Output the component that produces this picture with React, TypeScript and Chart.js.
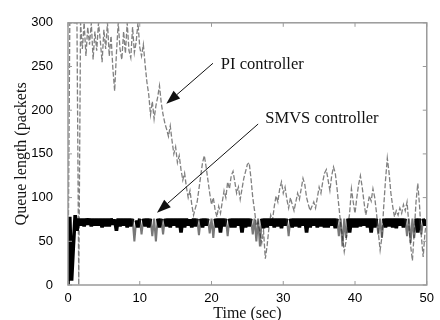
import { useEffect, useRef } from "react";
import { Chart, registerables } from "chart.js";
Chart.register(...registerables);

const TIME = [
  0, 0.25, 0.5, 0.75, 1, 1.25, 1.5,
  1.75, 2, 2.25, 2.5, 2.75, 3, 3.25, 3.5,
  3.75, 4, 4.25, 4.5, 4.75, 5, 5.25, 5.5,
  5.75, 6, 6.25, 6.5, 6.75, 7, 7.25, 7.5,
  7.75, 8, 8.25, 8.5, 8.75, 9, 9.25, 9.5,
  9.75, 10, 10.25, 10.5, 10.75, 11, 11.25, 11.5,
  11.75, 12, 12.25, 12.5, 12.75, 13, 13.25, 13.5,
  13.75, 14, 14.25, 14.5, 14.75, 15, 15.25, 15.5,
  15.75, 16, 16.25, 16.5, 16.75, 17, 17.25, 17.5,
  17.75, 18, 18.25, 18.5, 18.75, 19, 19.25, 19.5,
  19.75, 20, 20.25, 20.5, 20.75, 21, 21.25, 21.5,
  21.75, 22, 22.25, 22.5, 22.75, 23, 23.25, 23.5,
  23.75, 24, 24.25, 24.5, 24.75, 25, 25.25, 25.5,
  25.75, 26, 26.25, 26.5, 26.75, 27, 27.25, 27.5,
  27.75, 28, 28.25, 28.5, 28.75, 29, 29.25, 29.5,
  29.75, 30, 30.25, 30.5, 30.75, 31, 31.25, 31.5,
  31.75, 32, 32.25, 32.5, 32.75, 33, 33.25, 33.5,
  33.75, 34, 34.25, 34.5, 34.75, 35, 35.25, 35.5,
  35.75, 36, 36.25, 36.5, 36.75, 37, 37.25, 37.5,
  37.75, 38, 38.25, 38.5, 38.75, 39, 39.25, 39.5,
  39.75, 40, 40.25, 40.5, 40.75, 41, 41.25, 41.5,
  41.75, 42, 42.25, 42.5, 42.75, 43, 43.25, 43.5,
  43.75, 44, 44.25, 44.5, 44.75, 45, 45.25, 45.5,
  45.75, 46, 46.25, 46.5, 46.75, 47, 47.25, 47.5,
  47.75, 48, 48.25, 48.5, 48.75, 49, 49.25, 49.5,
  49.75, 50,
];

const PI_QUEUE = [
  0, 300, 300, 300, 300, 300, 0,
  300, 270, 300, 262, 295, 275, 300, 258,
  290, 268, 300, 280, 255, 292, 270, 300,
  262, 285, 248, 222, 265, 300, 270, 258,
  290, 265, 300, 268, 260, 295, 266, 278,
  300, 272, 262, 275, 252, 232, 218, 195,
  210, 190, 205, 215, 228, 208, 195, 185,
  178, 170, 182, 165, 150, 158, 140, 148,
  132, 120, 128, 112, 100, 108, 92, 80,
  88, 95, 110, 125, 140, 148, 135, 120,
  105, 92, 100, 86, 78, 90, 82, 95,
  108, 100, 118, 110, 125, 130, 118, 105,
  112, 98, 110, 122, 130, 138, 140, 122,
  100, 85, 68, 72, 60, 48, 62, 30,
  45, 65, 80, 74, 90, 102, 95, 110,
  118, 105, 112, 98, 88, 100, 92, 85,
  95, 105, 98, 110, 122, 115, 100, 92,
  85, 90, 95, 88, 100, 112, 105, 118,
  128, 132, 120, 108, 125, 135, 128, 110,
  90, 70, 55, 38, 50, 68, 82, 110,
  95, 82, 100, 115, 125, 112, 95, 80,
  90, 102, 96, 110, 100, 82, 60, 40,
  55, 90, 120, 145, 128, 105, 90, 78,
  85, 80, 88, 82, 92, 85, 95, 70,
  45, 28, 60, 95, 116, 90, 55, 32,
  60, 75,
];

const SMVS_QUEUE = [
  0, 78, 5, 45, 80, 62, 76,
  68, 76, 67, 76, 69, 76, 67, 76,
  68, 76, 68, 76, 66, 76, 67, 76,
  67, 76, 69, 75, 62, 76, 67, 76,
  68, 76, 66, 76, 67, 76, 50, 74,
  66, 76, 58, 76, 67, 76, 66, 76,
  56, 76, 50, 76, 66, 76, 58, 76,
  67, 76, 66, 76, 68, 76, 66, 76,
  60, 76, 66, 76, 68, 75, 66, 76,
  67, 76, 57, 76, 66, 76, 68, 76,
  59, 76, 54, 76, 66, 76, 60, 76,
  67, 76, 56, 76, 66, 76, 66, 76,
  68, 76, 60, 76, 66, 76, 67, 76,
  58, 76, 50, 76, 44, 76, 65, 76,
  66, 76, 68, 76, 66, 76, 67, 76,
  65, 76, 68, 76, 56, 76, 66, 76,
  67, 76, 66, 76, 68, 76, 60, 76,
  66, 76, 68, 76, 66, 76, 67, 76,
  66, 76, 66, 76, 68, 76, 65, 76,
  56, 76, 44, 76, 54, 76, 60, 76,
  66, 76, 66, 76, 67, 76, 68, 76,
  66, 76, 60, 76, 66, 76, 58, 76,
  54, 76, 66, 76, 67, 76, 66, 76,
  65, 76, 68, 76, 66, 76, 56, 76,
  48, 76, 54, 76, 60, 76, 58, 76,
  68, 75,
];

const X_TICKS = [0, 10, 20, 30, 40, 50];
const Y_TICKS = [0, 50, 100, 150, 200, 250, 300];

const ANNOTATIONS = [
  { text: "PI controller", tx: 21.3, ty: 252.6, fromX: 20.2, fromY: 253.7, toX: 13.7, toY: 207.3 },
  { text: "SMVS controller", tx: 27.5, ty: 190.8, fromX: 26.5, fromY: 184.2, toX: 12.4, toY: 82.7 },
];

const framePlugin = {
  id: "frameTicks",
  afterDatasetsDraw(chart: any) {
    const { ctx, chartArea: a, scales } = chart;
    ctx.save();
    ctx.strokeStyle = "#9a9a9a";
    ctx.lineWidth = 1.5;
    ctx.strokeRect(a.left, a.top, a.right - a.left, a.bottom - a.top);
    ctx.lineWidth = 1;
    const L = 4;
    X_TICKS.forEach((v) => {
      const x = scales.x.getPixelForValue(v);
      ctx.beginPath();
      ctx.moveTo(x, a.bottom); ctx.lineTo(x, a.bottom - L);
      ctx.moveTo(x, a.top); ctx.lineTo(x, a.top + L);
      ctx.stroke();
    });
    Y_TICKS.forEach((v) => {
      const y = scales.y.getPixelForValue(v);
      ctx.beginPath();
      ctx.moveTo(a.left, y); ctx.lineTo(a.left + L, y);
      ctx.moveTo(a.right, y); ctx.lineTo(a.right - L, y);
      ctx.stroke();
    });
    ctx.restore();
  },
  afterDraw(chart: any) {
    const { ctx, scales } = chart;
    ctx.save();
    ctx.font = "16.5px 'Liberation Serif', serif";
    ctx.fillStyle = "#111";
    ctx.strokeStyle = "#111";
    ctx.textBaseline = "middle";
    ctx.textAlign = "left";
    ANNOTATIONS.forEach((an) => {
      ctx.fillText(an.text, scales.x.getPixelForValue(an.tx), scales.y.getPixelForValue(an.ty));
      const x1 = scales.x.getPixelForValue(an.fromX);
      const y1 = scales.y.getPixelForValue(an.fromY);
      const x2 = scales.x.getPixelForValue(an.toX);
      const y2 = scales.y.getPixelForValue(an.toY);
      const ang = Math.atan2(y2 - y1, x2 - x1);
      const hl = 14, hw = 5;
      const bx = x2 - hl * Math.cos(ang);
      const by = y2 - hl * Math.sin(ang);
      ctx.lineWidth = 1;
      ctx.beginPath();
      ctx.moveTo(x1, y1); ctx.lineTo(bx, by);
      ctx.stroke();
      ctx.beginPath();
      ctx.moveTo(x2, y2);
      ctx.lineTo(bx + hw * Math.sin(ang), by - hw * Math.cos(ang));
      ctx.lineTo(bx - hw * Math.sin(ang), by + hw * Math.cos(ang));
      ctx.closePath();
      ctx.fill();
    });
    ctx.restore();
  },
};

export default function App() {
  const ref = useRef<HTMLCanvasElement>(null);
  useEffect(() => {
    const piData = TIME.map((t, i) => ({ x: t, y: PI_QUEUE[i] }));
    const smvsData = TIME.map((t, i) => ({ x: t, y: SMVS_QUEUE[i] }));
    const isDip = (c: any) => Math.min(c.p0.parsed.y, c.p1.parsed.y) < 60 && c.p0.parsed.x > 1.6;
    const chart = new Chart(ref.current!, {
      type: "line",
      data: {
        datasets: [
          {
            label: "SMVS controller",
            data: smvsData,
            borderColor: "#000",
            borderWidth: 3.6,
            borderJoinStyle: "bevel",
            pointRadius: 0,
            tension: 0,
            order: 0,
            segment: {
              borderColor: (c: any) => (isDip(c) ? "rgba(30,30,30,0.6)" : undefined),
              borderWidth: (c: any) => (isDip(c) ? 2 : undefined),
            },
          },
          {
            label: "PI controller",
            data: piData,
            borderColor: "rgba(85,85,85,0.75)",
            borderWidth: 1.3,
            borderDash: [5, 2],
            pointRadius: 0,
            tension: 0,
            order: 1,
          },
        ],
      },
      options: {
        animation: false,
        responsive: false,
        maintainAspectRatio: false,
        layout: { padding: { top: 13, right: 5, bottom: 0, left: 0 } },
        plugins: { legend: { display: false }, tooltip: { enabled: false } },
        scales: {
          x: {
            type: "linear",
            min: 0,
            max: 50,
            afterBuildTicks: (s: any) => { s.ticks = X_TICKS.map((v) => ({ value: v })); },
            afterFit: (s: any) => { s.height = 35; },
            grid: { display: false, drawTicks: false },
            border: { display: false },
            ticks: { padding: 6, color: "#000", font: { family: "'Liberation Sans', Arial", size: 13 } },
            title: {
              display: true,
              text: "Time (sec)",
              color: "#111",
              padding: { top: 0, bottom: -3 },
              font: { family: "'Liberation Serif', serif", size: 16 },
            },
          },
          y: {
            type: "linear",
            min: 0,
            max: 300,
            afterBuildTicks: (s: any) => { s.ticks = Y_TICKS.map((v) => ({ value: v })); },
            afterFit: (s: any) => { s.width = 68; },
            grid: { display: false, drawTicks: false },
            border: { display: false },
            ticks: { padding: 15, color: "#000", font: { family: "'Liberation Sans', Arial", size: 13 } },
            title: {
              display: true,
              text: "Queue length (packets",
              color: "#111",
              padding: { top: 12, bottom: 0 },
              font: { family: "'Liberation Serif', serif", size: 16 },
            },
          },
        },
      },
      plugins: [framePlugin],
    });
    return () => chart.destroy();
  }, []);
  return (
    <div style={{ position: "absolute", left: 0, top: 0, width: 440, height: 320, background: "#fff" }}>
      <canvas ref={ref} width={440} height={320} />
    </div>
  );
}
